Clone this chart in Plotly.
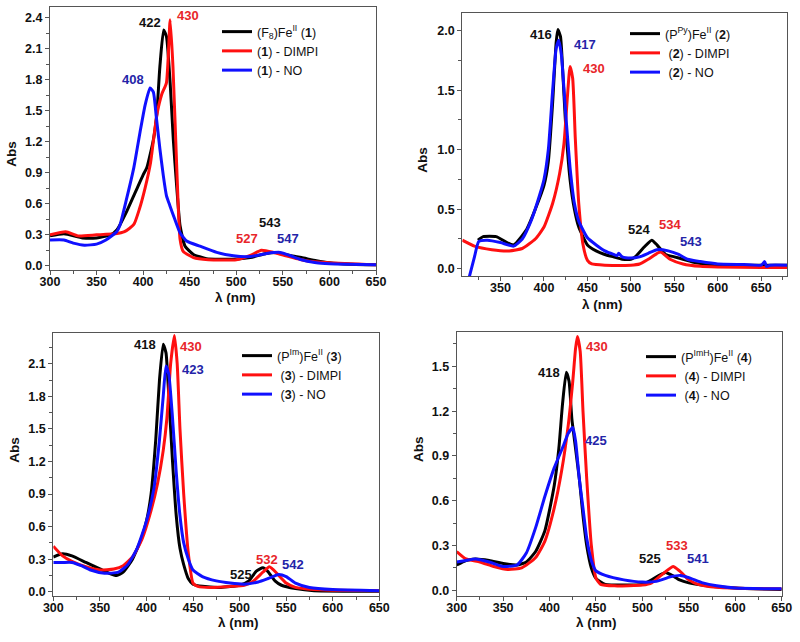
import plotly.graph_objects as go

# ---- data ----
# panel 1 : (F8)Fe(II)
p1_black_x = [300, 315, 335, 350, 365, 372, 382, 392, 400, 404, 411, 414.5, 418, 422, 425, 429, 432.4, 436, 439.6, 445, 454, 468, 497, 515, 532, 543, 558, 570, 586, 600, 622, 650]
p1_black_y = [0.29, 0.31, 0.27, 0.27, 0.30, 0.35, 0.52, 0.72, 0.88, 0.95, 1.22, 1.45, 1.93, 2.28, 2.22, 1.77, 1.22, 0.77, 0.39, 0.19, 0.11, 0.07, 0.065, 0.08, 0.12, 0.13, 0.10, 0.08, 0.05, 0.03, 0.016, 0.01]
p1_red_x = [300, 317, 330, 350, 370, 380, 390, 396, 402, 408, 414.5, 420, 425, 429, 432, 436, 439.6, 443, 454, 470, 500, 515, 527, 540, 552, 575, 600, 650]
p1_red_y = [0.30, 0.33, 0.29, 0.30, 0.31, 0.33, 0.40, 0.55, 0.75, 1.00, 1.45, 1.66, 1.77, 2.38, 1.93, 0.97, 0.26, 0.14, 0.08, 0.06, 0.06, 0.10, 0.15, 0.13, 0.10, 0.05, 0.03, 0.01]
p1_blue_x = [300, 315, 325, 337, 350, 360, 371.6, 375, 382, 390, 396.6, 402, 407.4, 411, 414, 418, 421.7, 425, 428.8, 434, 439.6, 446.7, 461, 479, 497, 515, 532.6, 547, 557.7, 568, 586, 600, 620, 650]
p1_blue_y = [0.25, 0.25, 0.22, 0.20, 0.21, 0.25, 0.33, 0.39, 0.64, 0.95, 1.29, 1.55, 1.72, 1.68, 1.45, 1.13, 0.87, 0.68, 0.58, 0.45, 0.32, 0.24, 0.19, 0.13, 0.097, 0.09, 0.12, 0.13, 0.10, 0.064, 0.03, 0.02, 0.015, 0.01]

# panel 2 : (PPy)Fe(II)
p2_black_x = [324, 330, 345, 355, 365, 380, 390, 400, 405, 410, 414, 416, 419, 422, 425, 430, 435, 440, 450, 460, 470, 480, 490, 500, 505, 515, 524, 530, 540, 550, 560, 575, 600, 650, 680]
p2_black_y = [0.24, 0.27, 0.27, 0.23, 0.20, 0.33, 0.50, 0.70, 0.90, 1.40, 1.90, 2.01, 1.95, 1.60, 1.20, 0.75, 0.50, 0.35, 0.20, 0.15, 0.12, 0.10, 0.08, 0.08, 0.10, 0.18, 0.24, 0.20, 0.12, 0.10, 0.08, 0.05, 0.03, 0.03, 0.03]
p2_red_x = [306, 320, 340, 360, 375, 390, 400, 410, 418, 423, 427, 430, 433, 436, 440, 445, 450, 455, 470, 500, 510, 520, 534, 545, 560, 580, 600, 650, 680]
p2_red_y = [0.24, 0.19, 0.16, 0.15, 0.17, 0.25, 0.35, 0.55, 0.80, 1.05, 1.45, 1.70, 1.60, 1.10, 0.55, 0.20, 0.07, 0.04, 0.03, 0.03, 0.04, 0.08, 0.14, 0.08, 0.04, 0.02, 0.015, 0.01, 0.01]
p2_blue_x = [314, 320, 325, 335, 350, 365, 375, 385, 395, 400, 405, 410, 414, 417, 420, 425, 430, 435, 440, 450, 460, 470, 480, 484, 486, 490, 500, 510, 520, 530, 543, 555, 565, 580, 600, 630, 650, 654, 656, 660, 680]
p2_blue_y = [-0.07, 0.10, 0.23, 0.24, 0.22, 0.19, 0.25, 0.40, 0.62, 0.75, 1.00, 1.50, 1.85, 1.92, 1.80, 1.30, 0.85, 0.55, 0.40, 0.26, 0.20, 0.15, 0.12, 0.11, 0.13, 0.10, 0.09, 0.10, 0.13, 0.16, 0.15, 0.12, 0.08, 0.06, 0.04, 0.035, 0.03, 0.06, 0.02, 0.03, 0.03]

# panel 3 : (PIm)Fe(II)
p3_black_x = [300, 310, 320, 335, 350, 360, 368, 375, 385, 395, 400, 405, 410, 414, 418, 421, 424, 428, 432, 436, 440, 445, 450, 460, 480, 500, 510, 518, 525, 530, 538, 545, 560, 580, 650]
p3_black_y = [0.32, 0.35, 0.33, 0.27, 0.21, 0.17, 0.15, 0.18, 0.30, 0.50, 0.65, 0.90, 1.40, 1.95, 2.28, 2.20, 1.80, 1.20, 0.70, 0.40, 0.25, 0.12, 0.07, 0.05, 0.04, 0.06, 0.10, 0.19, 0.22, 0.19, 0.10, 0.06, 0.03, 0.01, 0.005]
p3_red_x = [300, 310, 320, 335, 350, 365, 375, 385, 395, 405, 412, 418, 422, 426, 430, 433, 436, 440, 445, 450, 455, 470, 490, 505, 515, 525, 532, 540, 550, 560, 580, 600, 650]
p3_red_y = [0.42, 0.33, 0.28, 0.23, 0.20, 0.21, 0.24, 0.32, 0.48, 0.75, 1.00, 1.30, 1.60, 2.10, 2.36, 2.10, 1.50, 0.90, 0.35, 0.08, 0.05, 0.04, 0.05, 0.06, 0.10, 0.18, 0.23, 0.17, 0.08, 0.04, 0.02, 0.015, 0.01]
p3_blue_x = [300, 310, 320, 330, 340, 355, 370, 380, 390, 400, 408, 414, 418, 421, 424, 428, 432, 436, 440, 445, 450, 460, 475, 490, 505, 520, 530, 542, 550, 560, 575, 600, 650]
p3_blue_y = [0.27, 0.27, 0.27, 0.24, 0.20, 0.17, 0.18, 0.25, 0.40, 0.65, 0.95, 1.40, 1.80, 2.08, 2.00, 1.60, 1.10, 0.70, 0.45, 0.30, 0.20, 0.14, 0.10, 0.08, 0.07, 0.09, 0.12, 0.16, 0.14, 0.08, 0.04, 0.02, 0.01]

# panel 4 : (PImH)Fe(II)
p4_black_x = [300, 310, 320, 335, 350, 365, 375, 385, 395, 405, 410, 414, 418, 421, 424, 428, 432, 436, 440, 445, 450, 460, 480, 500, 510, 518, 525, 532, 540, 550, 570, 600, 650]
p4_black_y = [0.17, 0.20, 0.21, 0.20, 0.18, 0.17, 0.19, 0.26, 0.40, 0.70, 0.95, 1.25, 1.46, 1.40, 1.15, 0.95, 0.75, 0.50, 0.30, 0.15, 0.08, 0.04, 0.035, 0.04, 0.07, 0.10, 0.12, 0.10, 0.07, 0.05, 0.03, 0.015, 0.005]
p4_red_x = [300, 310, 325, 340, 355, 370, 385, 395, 405, 413, 420, 425, 428, 430, 433, 436, 440, 445, 450, 455, 470, 500, 510, 520, 533, 540, 550, 560, 580, 630, 650]
p4_red_y = [0.26, 0.21, 0.19, 0.16, 0.14, 0.15, 0.22, 0.33, 0.55, 0.80, 1.10, 1.40, 1.62, 1.70, 1.60, 1.20, 0.75, 0.30, 0.08, 0.04, 0.03, 0.035, 0.05, 0.10, 0.16, 0.13, 0.07, 0.04, 0.02, 0.01, 0.01]
p4_blue_x = [300, 310, 320, 335, 350, 365, 375, 385, 395, 405, 415, 420, 425, 428, 432, 436, 440, 445, 450, 460, 480, 500, 515, 530, 541, 550, 565, 580, 600, 650]
p4_blue_y = [0.19, 0.20, 0.21, 0.19, 0.16, 0.17, 0.25, 0.42, 0.63, 0.82, 0.97, 1.05, 1.09, 1.00, 0.75, 0.55, 0.35, 0.20, 0.13, 0.10, 0.07, 0.055, 0.06, 0.09, 0.10, 0.085, 0.05, 0.03, 0.015, 0.01]

# legend names
names1 = ["(F<sub>8</sub>)Fe<sup>II</sup> (<b>1</b>)", "(<b>1</b>) - DIMPI", "(<b>1</b>) - NO"]
names2 = ["(P<sup>Py</sup>)Fe<sup>II</sup> (<b>2</b>)", " (<b>2</b>) - DIMPI", " (<b>2</b>) - NO"]
names3 = ["(P<sup>Im</sup>)Fe<sup>II</sup> (<b>3</b>)", " (<b>3</b>) - DIMPI", " (<b>3</b>) - NO"]
names4 = ["(P<sup>ImH</sup>)Fe<sup>II</sup> (<b>4</b>)", " (<b>4</b>) - DIMPI", " (<b>4</b>) - NO"]

# peak labels: (text, x, y, colour index)
peaks1 = [("422", 407, 2.35, 0), ("430", 448, 2.42, 1), ("408", 389, 1.80, 2), ("543", 536, 0.42, 0), ("527", 511, 0.26, 1), ("547", 556, 0.26, 2)]
peaks2 = [("416", 397, 1.97, 0), ("417", 447, 1.88, 2), ("430", 457, 1.68, 1), ("524", 509, 0.33, 0), ("534", 545, 0.37, 1), ("543", 569, 0.23, 2)]
peaks3 = [("418", 398, 2.28, 0), ("430", 448, 2.26, 1), ("423", 450, 2.05, 2), ("525", 502, 0.16, 0), ("532", 529, 0.30, 1), ("542", 557, 0.25, 2)]
peaks4 = [("418", 399, 1.46, 0), ("430", 451, 1.63, 1), ("425", 450, 1.00, 2), ("525", 508, 0.21, 0), ("533", 537, 0.30, 1), ("541", 560, 0.21, 2)]

line_cols = ["#000000", "#ff1010", "#1010ff"]
text_cols = ["#111111", "#e8262a", "#2424a8"]
FONT = "Liberation Sans, Arial, sans-serif"
W, H = 800, 642

panels = [
    dict(series=[(p1_black_x, p1_black_y), (p1_red_x, p1_red_y), (p1_blue_x, p1_blue_y)], names=names1, peaks=peaks1,
         box=(50, 376, 7.3, 270), xr=[300, 650], yr=[-0.04, 2.5], dy=0.3, leg=(217, 17), xt=298, yt=12),
    dict(series=[(p2_black_x, p2_black_y), (p2_red_x, p2_red_y), (p2_blue_x, p2_blue_y)], names=names2, peaks=peaks2,
         box=(462.3, 787.3, 13.3, 276), xr=[306, 680], yr=[-0.061, 2.146], dy=0.5, leg=(625, 19), xt=304, yt=423),
    dict(series=[(p3_black_x, p3_black_y), (p3_red_x, p3_red_y), (p3_blue_x, p3_blue_y)], names=names3, peaks=peaks3,
         box=(53.3, 379.3, 333.3, 596), xr=[300, 650], yr=[-0.039, 2.38], dy=0.3, leg=(237, 341), xt=622, yt=15),
    dict(series=[(p4_black_x, p4_black_y), (p4_red_x, p4_red_y), (p4_blue_x, p4_blue_y)], names=names4, peaks=peaks4,
         box=(456.7, 781.7, 332, 596), xr=[300, 650], yr=[-0.038, 1.73], dy=0.3, leg=(641, 342), xt=622, yt=418),
]

fig = go.Figure()
layout = dict(width=W, height=H, margin=dict(l=0, r=0, t=0, b=0, autoexpand=False),
              plot_bgcolor="white", paper_bgcolor="white", showlegend=True,
              font=dict(family=FONT, color="#111111"))
annotations = []

for i, p in enumerate(panels):
    n = "" if i == 0 else str(i + 1)
    legname = "legend" + n
    x0, x1, y0, y1 = p["box"]
    for k, (xs, ys) in enumerate(p["series"]):
        fig.add_trace(go.Scatter(x=xs, y=ys, mode="lines", name=p["names"][k],
                                 line=dict(color=line_cols[k], width=3, shape="spline", smoothing=0.5),
                                 xaxis="x" + n, yaxis="y" + n, legend=legname))
    axis_common = dict(showline=True, linecolor="#555555", linewidth=1.2, mirror=True, automargin=False,
                       ticks="outside", ticklen=4, tickcolor="#555555", showgrid=False, zeroline=False,
                       tickfont=dict(family=FONT, size=12.5, color="#111111", weight="bold"))
    layout["xaxis" + n] = dict(axis_common, domain=[x0 / W, x1 / W], range=p["xr"], dtick=50, tick0=300,
                               minor=dict(ticks="outside", ticklen=3, dtick=25, tickcolor="#555555"),
                               anchor="y" + n, ticklabelstandoff=-4)
    layout["yaxis" + n] = dict(axis_common, domain=[1 - y1 / H, 1 - y0 / H], range=p["yr"], dtick=p["dy"], tick0=0,
                               tickformat=".1f",
                               minor=dict(ticks="outside", ticklen=3, dtick=p["dy"] / 2, tickcolor="#555555"),
                               anchor="x" + n)
    layout[legname] = dict(x=p["leg"][0] / W, y=1 - p["leg"][1] / H, xanchor="left", yanchor="top",
                           bgcolor="rgba(0,0,0,0)", font=dict(family=FONT, size=12.5, color="#111111"),
                           tracegroupgap=0, itemwidth=30)
    # axis titles
    annotations.append(dict(text="λ (nm)", x=(x0 + x1) / 2 / W, y=1 - p["xt"] / H, xref="paper", yref="paper",
                            showarrow=False, yanchor="middle",
                            font=dict(family=FONT, size=13.5, color="#111111", weight="bold")))
    annotations.append(dict(text="Abs", x=p["yt"] / W, y=1 - (y0 + y1) / 2 / H, xref="paper", yref="paper",
                            showarrow=False, textangle=-90, xanchor="center",
                            font=dict(family=FONT, size=13.5, color="#111111", weight="bold")))
    for txt, px, py, c in p["peaks"]:
        annotations.append(dict(text=txt, x=px, y=py, xref="x" + n, yref="y" + n, showarrow=False,
                                font=dict(family=FONT, size=13, color=text_cols[c], weight="bold")))

layout["annotations"] = annotations
fig.update_layout(**layout)
fig.write_html("out.html", config={"displayModeBar": False},
               post_script="document.body.style.margin='0px';")
